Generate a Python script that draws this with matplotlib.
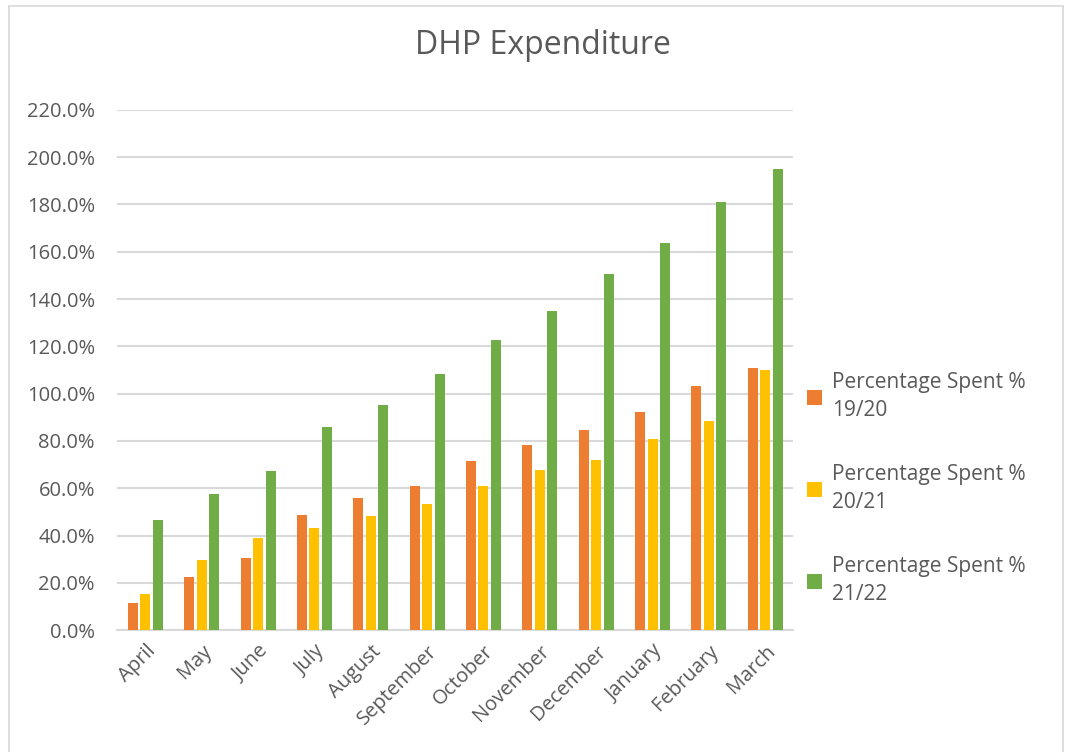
import numpy as np
import matplotlib.pyplot as plt
from matplotlib.patches import Rectangle

months = ['April', 'May', 'June', 'July', 'August', 'September', 'October',
          'November', 'December', 'January', 'February', 'March']
spent_1920 = [11.4, 22.4, 30.4, 48.6, 55.8, 60.9, 71.5, 78.2, 84.6, 92.2, 103.2, 110.8]
spent_2021 = [15.2, 29.6, 38.9, 43.1, 48.2, 53.3, 60.9, 67.7, 71.9, 80.8, 88.4, 109.9]
spent_2122 = [46.5, 57.5, 67.2, 85.8, 95.1, 108.2, 122.6, 134.9, 150.5, 163.6, 181.0, 194.9]
labels = ['Percentage Spent %\n19/20', 'Percentage Spent %\n20/21', 'Percentage Spent %\n21/22']
colors = ['#ED7D31', '#FFC000', '#70AD47']

plt.rcParams['font.family'] = ['Open Sans', 'DejaVu Sans']
txt = '#595959'

fig = plt.figure(figsize=(10.65, 7.52), dpi=100)
ax = fig.add_axes([0.11, 0.162, 0.635, 0.692])

x = np.arange(len(months))
w = 0.178
step = 0.222
for i, (vals, lab, c) in enumerate(zip([spent_1920, spent_2021, spent_2122], labels, colors)):
    ax.bar(x + (i - 1) * step, vals, width=w, color=c, label=lab, zorder=3)

ax.set_xlim(-0.5, len(months) - 0.5)
ax.set_ylim(0, 220)
ax.set_yticks(np.arange(0, 221, 20))
ax.set_yticklabels([f'{v:.1f}%' for v in np.arange(0, 221, 20)], fontsize=14.5, color=txt)
ax.set_xticks(x)
ax.set_xticklabels(months, rotation=45, ha='right', rotation_mode='anchor', fontsize=14.5, color=txt)
ax.tick_params(axis='y', length=0, pad=16)
ax.tick_params(axis='x', length=0, pad=8)
ax.grid(axis='y', color='#d9d9d9', linewidth=1.5, zorder=0)
for s in ['top', 'right', 'left']:
    ax.spines[s].set_visible(False)
ax.spines['bottom'].set_color('#d9d9d9')
ax.spines['bottom'].set_linewidth(1.5)

fig.text(0.51, 0.94, 'DHP Expenditure', ha='center', va='center', fontsize=23, color=txt)

leg = fig.legend(loc='center left', bbox_to_anchor=(0.74, 0.35), frameon=False,
                 fontsize=15, labelcolor=txt, handlelength=0.75, handleheight=0.75,
                 handletextpad=0.45, labelspacing=2.05)
for t in leg.get_texts():
    t.set_linespacing(1.45)

fig.patches.append(Rectangle((0.008, -0.01), 0.99, 1.002, transform=fig.transFigure,
                             fill=False, edgecolor='#d9d9d9', linewidth=1.2))

fig.savefig('out.png', dpi=100)
